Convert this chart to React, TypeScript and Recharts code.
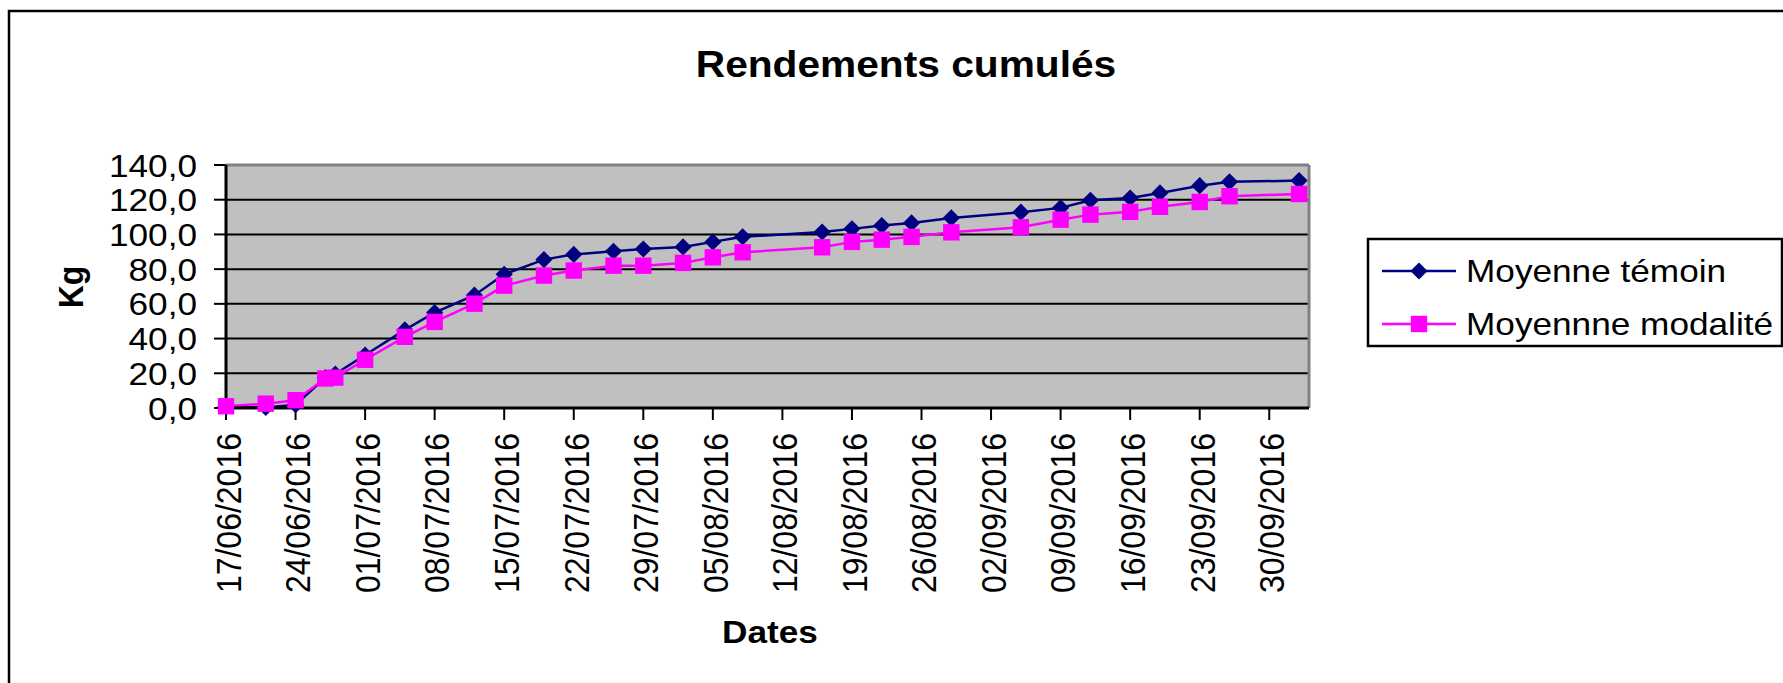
import React from "react";
import {
  LineChart, Line, XAxis, YAxis, CartesianGrid, ReferenceLine,
} from "recharts";

// picking dates and cumulated yields (kg)
const dates = [
  "17/06/2016", "21/06/2016", "24/06/2016", "27/06/2016", "28/06/2016",
  "01/07/2016", "05/07/2016", "08/07/2016", "12/07/2016", "15/07/2016",
  "19/07/2016", "22/07/2016", "26/07/2016", "29/07/2016", "02/08/2016",
  "05/08/2016", "08/08/2016", "16/08/2016", "19/08/2016", "22/08/2016",
  "25/08/2016", "29/08/2016", "05/09/2016", "09/09/2016", "12/09/2016",
  "16/09/2016", "19/09/2016", "23/09/2016", "26/09/2016", "03/10/2016",
];
const temoin = [
  0.9, 0.3, 1.9, 17.5, 19.5, 30.5, 45.0, 55.0, 65.0, 77.0,
  85.5, 88.5, 90.3, 91.6, 92.8, 95.7, 98.6, 101.4, 103.2, 105.1,
  106.6, 109.5, 112.8, 115.3, 119.7, 121.0, 123.9, 128.1, 130.3, 131.0,
];
const modalite = [
  1.0, 2.5, 4.5, 17.0, 17.5, 27.8, 41.0, 49.6, 60.1, 70.5,
  76.3, 79.2, 82.0, 82.0, 83.6, 86.8, 89.7, 92.6, 95.7, 97.0,
  98.6, 101.2, 104.1, 108.5, 111.4, 113.0, 115.9, 118.7, 122.0, 123.3,
];
const xTickLabels = [
  "17/06/2016", "24/06/2016", "01/07/2016", "08/07/2016", "15/07/2016",
  "22/07/2016", "29/07/2016", "05/08/2016", "12/08/2016", "19/08/2016",
  "26/08/2016", "02/09/2016", "09/09/2016", "16/09/2016", "23/09/2016",
  "30/09/2016",
];
const yTicks = [0, 20, 40, 60, 80, 100, 120, 140];

const FONT = '"Liberation Sans", Arial, sans-serif';
const NAVY = "#000080";
const PINK = "#FF00FF";

function dayOf(s: string) {
  const [d, m, y] = s.split("/").map(Number);
  return Math.round((Date.UTC(y, m - 1, d) - Date.UTC(2016, 5, 17)) / 86400000);
}

const data = dates.map((d, i) => ({
  day: dayOf(d),
  temoin: temoin[i],
  modalite: modalite[i],
}));
const xTicks = xTickLabels.map(dayOf);
const labelOf: Record<number, string> = {};
xTickLabels.forEach((l) => { labelOf[dayOf(l)] = l; });

function Diamond({ cx, cy, color = NAVY }: any) {
  if (cx == null || cy == null) return null;
  const r = 8.6;
  return <polygon points={`${cx},${cy - r} ${cx + r},${cy} ${cx},${cy + r} ${cx - r},${cy}`} fill={color} />;
}

function Square({ cx, cy, color = PINK }: any) {
  if (cx == null || cy == null) return null;
  const r = 8.2;
  return <rect x={cx - r} y={cy - r} width={r * 2} height={r * 2} fill={color} />;
}

function XTick({ x, y, payload }: any) {
  return (
    <g transform={`translate(${x},${y}) scale(1.1,1) rotate(-90)`}>
      <text textAnchor="end" dy="0.42em" fontSize={32} fontFamily={FONT} fill="#000">
        {labelOf[payload.value]}
      </text>
    </g>
  );
}

function YTick({ x, y, payload }: any) {
  return (
    <g transform={`translate(${x},${y}) scale(1.1,1)`}>
      <text textAnchor="end" dy="0.36em" fontSize={32} fontFamily={FONT} fill="#000">
        {payload.value.toFixed(1).replace(".", ",")}
      </text>
    </g>
  );
}

export default function App() {
  return (
    <div style={{ position: "fixed", left: 0, top: 0, width: 1783, height: 683, background: "#fff", overflow: "hidden" }}>
      <div style={{ position: "absolute", left: 0, top: 0 }}>
        <LineChart width={1783} height={683} data={data} margin={{ top: 165, left: 166, right: 474, bottom: 245 }}>
          <CartesianGrid vertical={false} fill="#C0C0C0" stroke="#000" strokeWidth={2} />
          <ReferenceLine y={140} stroke="#808080" strokeWidth={3} />
          <ReferenceLine x={109} stroke="#808080" strokeWidth={3} />
          <XAxis
            type="number" dataKey="day" domain={[0, 109]} ticks={xTicks} interval={0}
            height={30} tick={<XTick />} tickSize={12} tickMargin={13}
            axisLine={{ stroke: "#000", strokeWidth: 3 }} tickLine={{ stroke: "#000", strokeWidth: 2 }}
          />
          <YAxis
            domain={[0, 140]} ticks={yTicks} interval={0} width={60}
            tick={<YTick />} tickSize={12} tickMargin={17}
            axisLine={{ stroke: "#000", strokeWidth: 3 }} tickLine={{ stroke: "#000", strokeWidth: 2 }}
          />
          <Line type="linear" dataKey="temoin" stroke={NAVY} strokeWidth={2.5} dot={<Diamond />} activeDot={false} isAnimationActive={false} />
          <Line type="linear" dataKey="modalite" stroke={PINK} strokeWidth={2.5} dot={<Square />} activeDot={false} isAnimationActive={false} />
        </LineChart>
      </div>
      <svg width={1783} height={683} style={{ position: "absolute", left: 0, top: 0, pointerEvents: "none" }}>
        <rect x={9} y={11} width={1800} height={700} fill="none" stroke="#000" strokeWidth={2.5} />
        <text transform="translate(906,77) scale(1.1,1)" textAnchor="middle" fontSize={37} fontWeight="bold" fontFamily={FONT}>
          Rendements cumulés
        </text>
        <text transform="translate(83,287) scale(1.1,1) rotate(-90)" textAnchor="middle" fontSize={32} fontWeight="bold" fontFamily={FONT}>
          Kg
        </text>
        <text transform="translate(770,643) scale(1.1,1)" textAnchor="middle" fontSize={32} fontWeight="bold" fontFamily={FONT}>
          Dates
        </text>
        <rect x={1368} y={239} width={414} height={107} fill="#fff" stroke="#000" strokeWidth={2.5} />
        <line x1={1382} y1={271} x2={1456} y2={271} stroke={NAVY} strokeWidth={2.5} />
        <Diamond cx={1419} cy={271} />
        <text transform="translate(1466,282) scale(1.1,1)" fontSize={32} fontFamily={FONT}>Moyenne témoin</text>
        <line x1={1382} y1={324} x2={1456} y2={324} stroke={PINK} strokeWidth={2.5} />
        <Square cx={1419} cy={324} />
        <text transform="translate(1466,335) scale(1.1,1)" fontSize={32} fontFamily={FONT}>Moyennne modalité</text>
      </svg>
    </div>
  );
}
